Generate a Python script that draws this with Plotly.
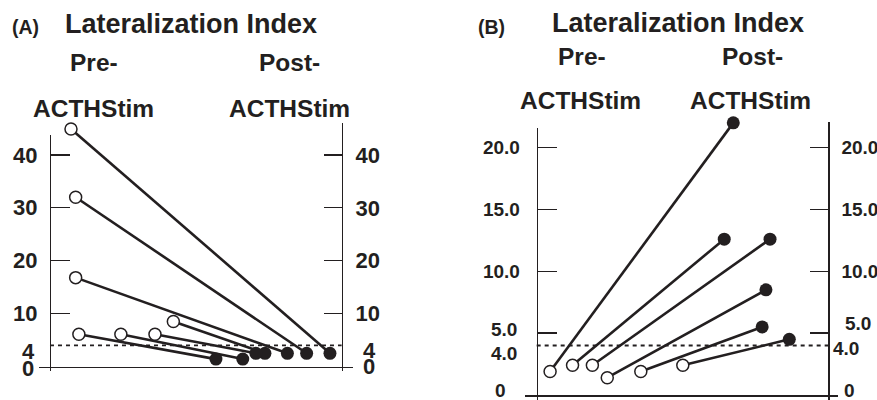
import plotly.graph_objects as go

# ---------------- data ----------------
# Panel A: lateralization index before / after ACTH stimulation
a_pre = [44.9, 32.0, 16.8, 8.5, 6.1, 6.1, 6.1]
a_post = [2.5, 2.5, 2.5, 2.5, 2.5, 1.4, 1.4]
a_pre_pos = [0.72, 0.88, 0.88, 4.23, 3.60, 2.43, 0.99]
a_post_pos = [9.60, 8.80, 8.14, 7.37, 7.06, 6.61, 5.69]
a_tickvals = [10, 20, 30, 40]
a_ticktext = ["10", "20", "30", "40"]

# Panel B
b_pre = [1.9, 2.4, 2.4, 1.4, 1.9, 2.4]
b_post = [22.0, 12.6, 12.6, 8.5, 5.5, 4.5]
b_pre_pos = [0.46, 1.23, 1.91, 2.42, 3.57, 5.01]
b_post_pos = [6.74, 6.43, 8.00, 7.86, 7.73, 8.66]
b_tickvals = [5, 10, 15, 20]
b_ticktext = ["", "10.0", "15.0", "20.0"]

threshold = 4
threshold_span = [0, 10]
title_text = "Lateralization Index"
pre_text = "Pre-"
post_text = "Post-"
stim_text = "ACTHStim"

# ---------------- helpers ----------------
W, H = 877, 400
FONT = "Liberation Sans, Arial, Helvetica, sans-serif"
INK = "#231f20"


def px(x):
    return x / W


def py(y):
    return 1 - y / H


fig = go.Figure()


def add_panel(pre, post, pre_pos, post_pos, xa, ya_left, ya_right):
    fig.add_trace(go.Scatter(
        x=threshold_span, y=[threshold, threshold], mode="lines",
        line=dict(color=INK, width=1.8, dash="4px,4px"),
        xaxis=xa, yaxis=ya_left, hoverinfo="skip", showlegend=False))
    for i in range(len(pre)):
        fig.add_trace(go.Scatter(
            x=[pre_pos[i], post_pos[i]], y=[pre[i], post[i]],
            mode="lines", line=dict(color=INK, width=2.6),
            xaxis=xa, yaxis=ya_right, hoverinfo="skip", showlegend=False))
    fig.add_trace(go.Scatter(
        x=pre_pos, y=pre, mode="markers",
        marker=dict(symbol="circle", size=12, color="white",
                    line=dict(color=INK, width=1.5)),
        xaxis=xa, yaxis=ya_right, showlegend=False, cliponaxis=False))
    fig.add_trace(go.Scatter(
        x=post_pos, y=post, mode="markers",
        marker=dict(symbol="circle", size=13, color=INK,
                    line=dict(width=0)),
        xaxis=xa, yaxis=ya_right, showlegend=False, cliponaxis=False))


add_panel(a_pre, a_post, a_pre_pos, a_post_pos, "x", "y", "y2")
add_panel(b_pre, b_post, b_pre_pos, b_post_pos, "x2", "y3", "y4")

tick_a = dict(family=FONT, size=22, color=INK, weight="bold")
tick_b = dict(family=FONT, size=19, color=INK, weight="bold")

xcommon = dict(showline=True, linecolor=INK, linewidth=1.5, showgrid=False,
               zeroline=False, showticklabels=False, ticks="", anchor="free",
               fixedrange=True)
ycommon = dict(showline=True, linecolor=INK, linewidth=1.3, showgrid=False,
               zeroline=False, ticks="inside", tickwidth=1.3, tickcolor=INK,
               anchor="free", fixedrange=True, tickmode="array")

fig.update_layout(
    width=W, height=H,
    margin=dict(l=0, r=0, t=0, b=0),
    paper_bgcolor="white", plot_bgcolor="rgba(0,0,0,0)",
    showlegend=False,
    xaxis=dict(xcommon, domain=[px(39), px(353)], range=[-0.377, 10.39],
               position=py(366.5)),
    yaxis=dict(ycommon, domain=[py(371), py(135)], range=[-0.85, 43.76],
               position=px(50), side="left", ticklen=19,
               tickvals=a_tickvals, ticktext=a_ticktext, tickfont=tick_a,
               ticklabelstandoff=8),
    yaxis2=dict(ycommon, domain=[py(371), py(123)], range=[-0.85, 46.03],
                position=px(341.7), side="right", ticklen=18,
                tickvals=a_tickvals, ticktext=a_ticktext, tickfont=tick_a,
                ticklabelstandoff=8),
    xaxis2=dict(xcommon, domain=[px(525), px(838)], range=[-0.40, 10.33],
                position=py(395)),
    yaxis3=dict(ycommon, domain=[0, py(128.3)], range=[-0.404, 21.56],
                position=px(536.7), side="left", ticklen=19,
                tickvals=b_tickvals, ticktext=b_ticktext, tickfont=tick_b,
                ticklabelstandoff=13),
    yaxis4=dict(ycommon, domain=[0, py(121.5)], range=[-0.404, 22.11],
                position=px(828.3), side="right", ticklen=18,
                tickvals=b_tickvals, ticktext=b_ticktext, tickfont=tick_b,
                ticklabelstandoff=8),
)


def header(text, x, y, size):
    fig.add_annotation(text=text, x=px(x), y=py(y), xref="paper", yref="paper",
                       xanchor="center", yanchor="middle", showarrow=False,
                       font=dict(family=FONT, size=size, color=INK, weight="bold"))


# Panel A headers
header("(A)", 25.5, 27.5, 19.5)
header(title_text, 190.5, 24, 27)
header(pre_text, 94, 63, 24.5)
header(post_text, 289.6, 63, 24.5)
header(stim_text, 93, 108.3, 24.5)
header(stim_text, 289, 108.3, 24.5)
# Panel B headers
header("(B)", 491.7, 27.5, 19.5)
header(title_text, 677.5, 23.5, 27)
header(pre_text, 581.7, 56, 24.5)
header(post_text, 752.5, 56, 24.5)
header(stim_text, 580.8, 101, 24.5)
header(stim_text, 750.8, 101, 24.5)


def axis_label(text, x, yval, yref, shift, size):
    fig.add_annotation(text=text, x=px(x), y=yval, xref="paper", yref=yref,
                       xanchor="center", yanchor="middle", yshift=shift,
                       showarrow=False,
                       font=dict(family=FONT, size=size, color=INK, weight="bold"))


# special tick labels (offset in the original)
axis_label("4", 28, threshold, "y", -6, 22)
axis_label("0", 28.3, 0, "y", -2, 22)
axis_label("4", 369, threshold, "y2", -5, 22)
axis_label("0", 369, 0, "y2", 0, 22)
axis_label("5.0", 503.7, 5, "y3", 4, 19)
axis_label("4.0", 503.7, threshold, "y3", -8, 19)
axis_label("0", 500, 0, "y3", 5, 19)
axis_label("5.0", 857.5, 5, "y4", 10, 19)
axis_label("4.0", 846.2, threshold, "y4", -3, 19)
axis_label("0", 849.2, 0, "y4", 5, 19)

fig.write_html(
    "out.html",
    config=dict(displayModeBar=False, staticPlot=True),
    post_script="document.body.style.margin='0';document.body.style.padding='0';",
)
